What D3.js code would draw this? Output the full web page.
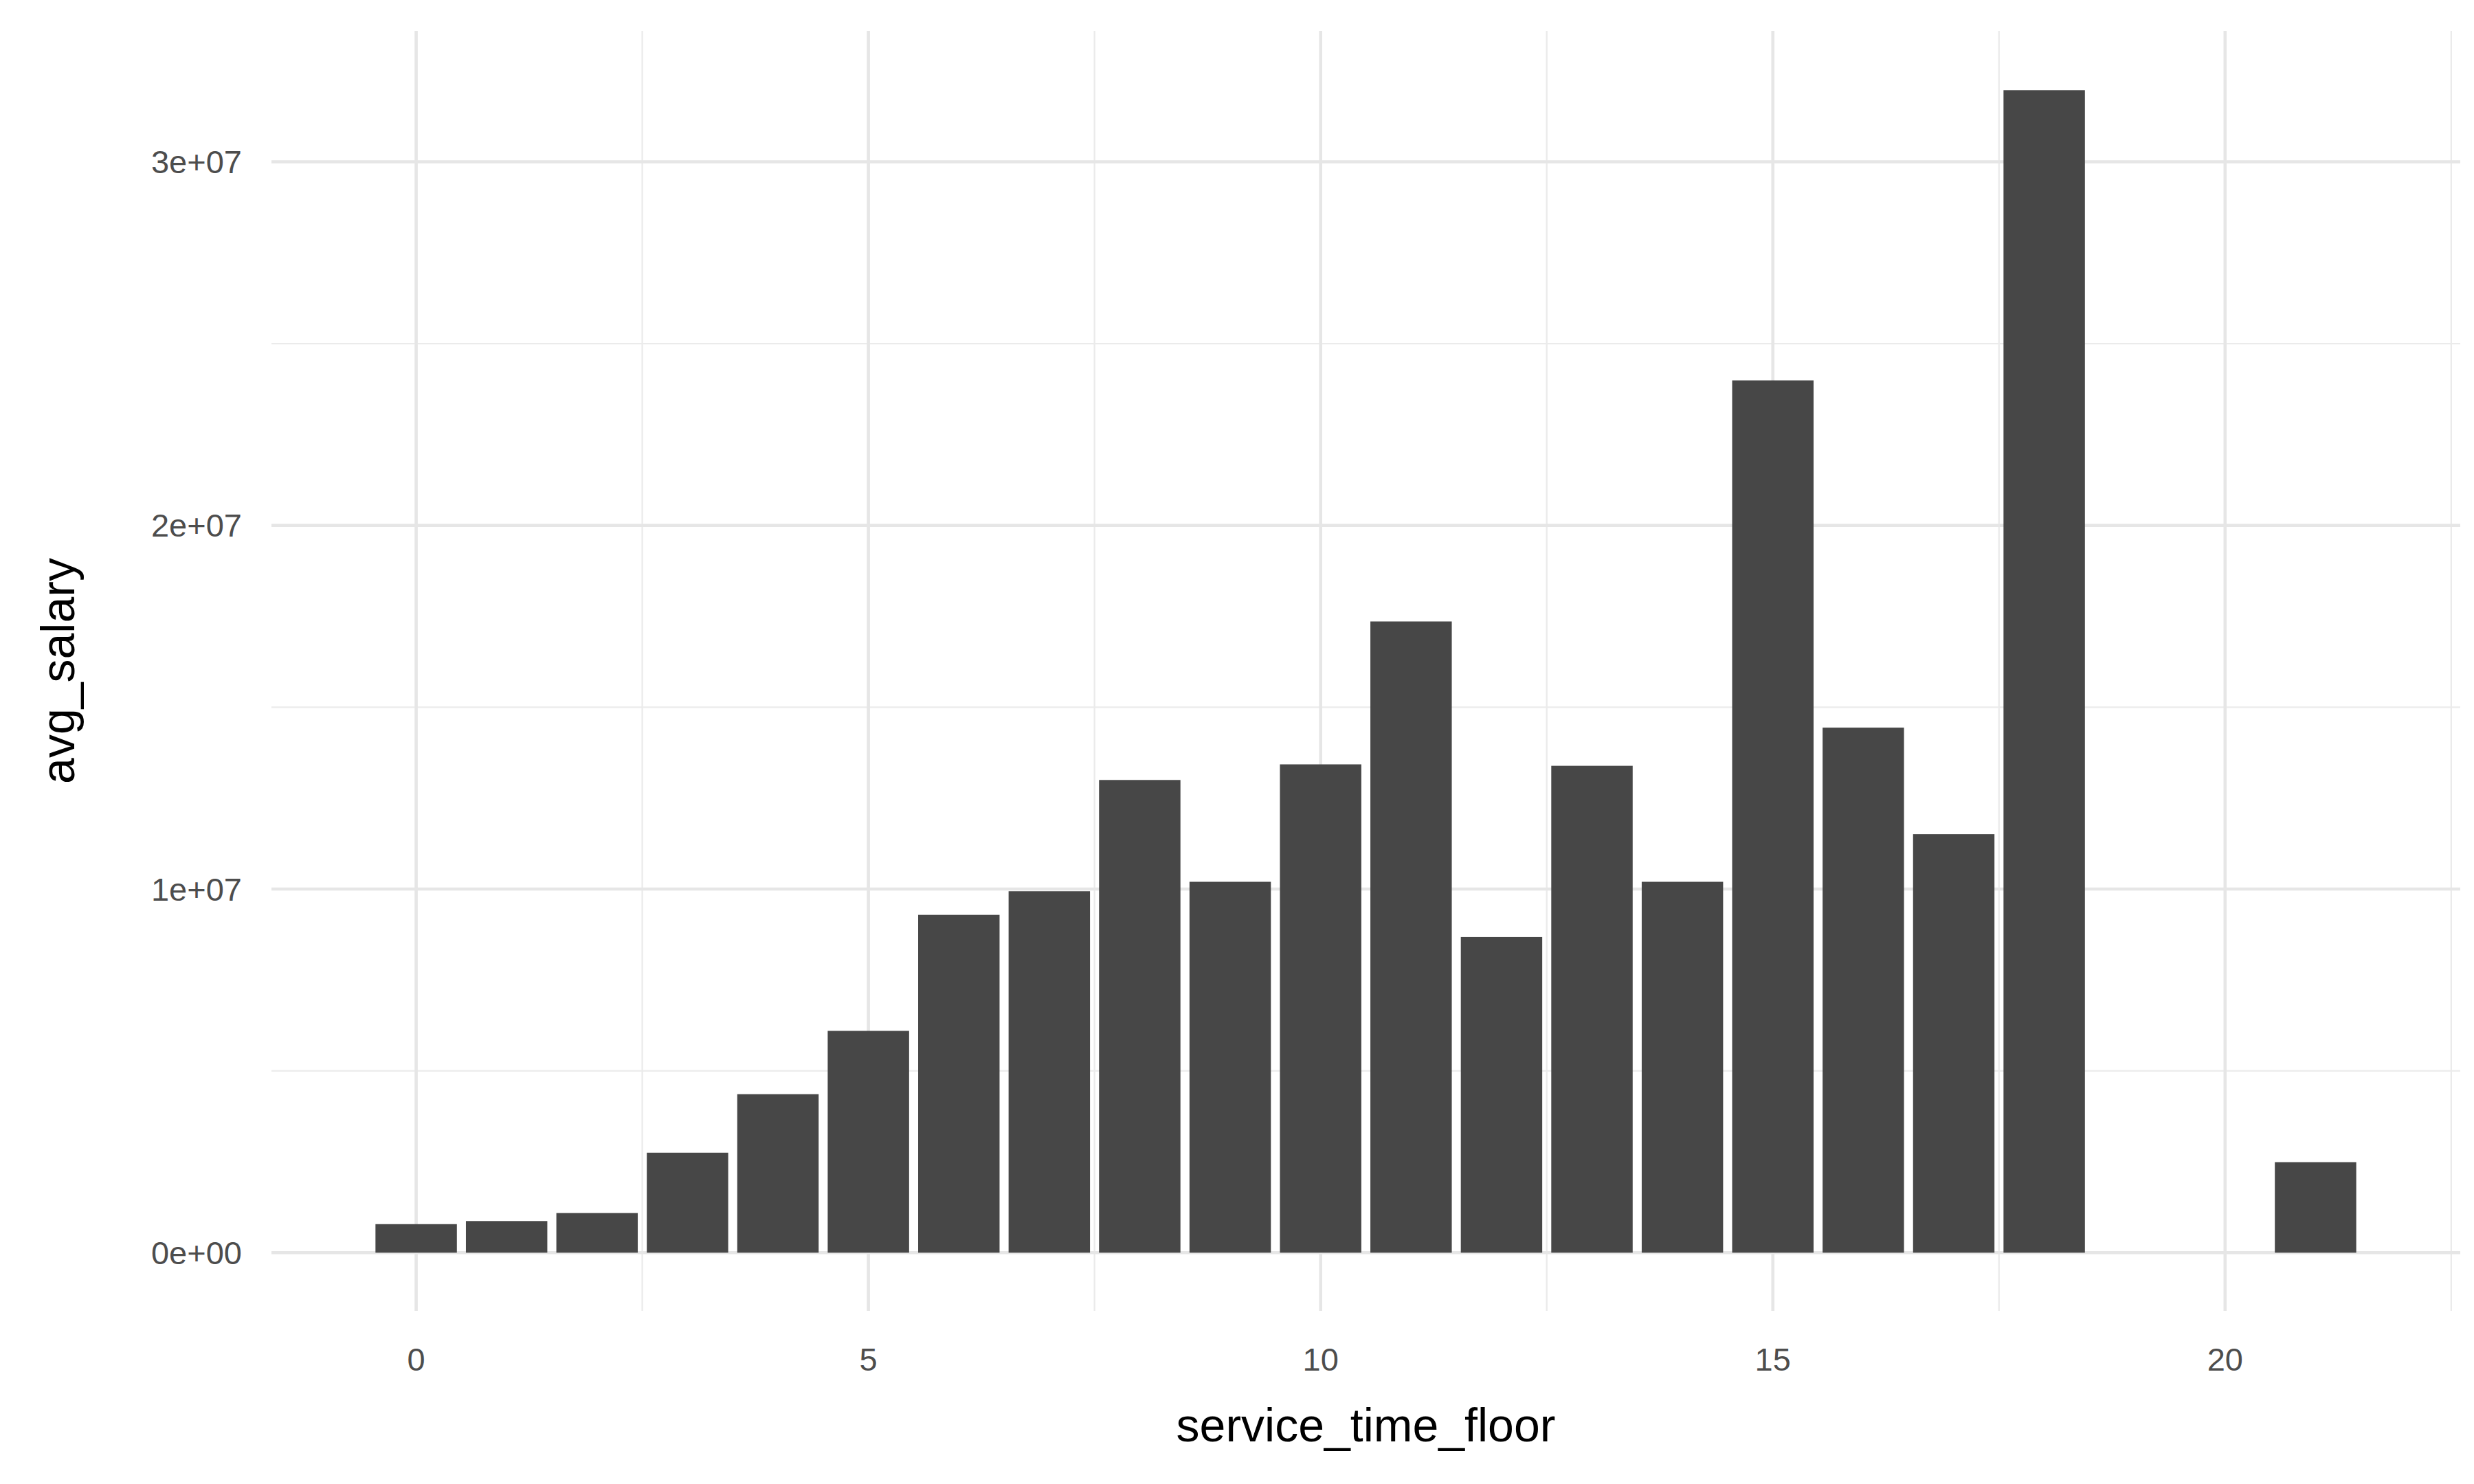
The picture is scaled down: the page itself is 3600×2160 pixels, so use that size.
<!DOCTYPE html>
<html><head><meta charset="utf-8">
<script src="https://cdn.jsdelivr.net/npm/d3@7"></script>
<style>body{margin:0;background:#fff}</style>
</head><body>
<script>
// Data
let years = [0,1,2,3,4,5,6,7,8,9,10,11,12,13,14,15,16,17,18,21]
let salaries = [785000,870000,1090000,2750000,4360000,6100000,9290000,9940000,13000000,10200000,
  13430000,17360000,8680000,13390000,10200000,23990000,14440000,11510000,31970000,2490000]
let xTicks = [0,5,10,15,20]
let yTicks = [0,1e7,2e7,3e7]
let yTickLabels = ['0e+00','1e+07','2e+07','3e+07']

let width = 3600, height = 2160
let margin = {left: 395, top: 45, right: 20, bottom: 252}

let svg = d3.select('body').append('svg')
    .attr('width', width).attr('height', height)
    .style('font-family', 'Liberation Sans, Arial, sans-serif')

let xScale = d3.scaleLinear().domain([-1.6, 22.6]).range([margin.left, width - margin.right])
let yScale = d3.scaleLinear().domain([-1.6e6, 33.6e6]).range([height - margin.bottom, margin.top])

// minor grid
let xMinor = [2.5, 7.5, 12.5, 17.5, 22.5].filter(v => v <= 22.6)
let yMinor = [5e6, 1.5e7, 2.5e7]
svg.selectAll('.vminor').data(xMinor).join('line')
    .attr('x1', d => xScale(d)).attr('x2', d => xScale(d))
    .attr('y1', margin.top).attr('y2', height - margin.bottom)
    .attr('stroke', '#ebebeb').attr('stroke-width', 2.3)
svg.selectAll('.hminor').data(yMinor).join('line')
    .attr('y1', d => yScale(d)).attr('y2', d => yScale(d))
    .attr('x1', margin.left).attr('x2', width - margin.right)
    .attr('stroke', '#ebebeb').attr('stroke-width', 2.3)
// major grid
svg.selectAll('.vmajor').data(xTicks).join('line')
    .attr('x1', d => xScale(d)).attr('x2', d => xScale(d))
    .attr('y1', margin.top).attr('y2', height - margin.bottom)
    .attr('stroke', '#e6e6e6').attr('stroke-width', 4.6)
svg.selectAll('.hmajor').data(yTicks).join('line')
    .attr('y1', d => yScale(d)).attr('y2', d => yScale(d))
    .attr('x1', margin.left).attr('x2', width - margin.right)
    .attr('stroke', '#e6e6e6').attr('stroke-width', 4.6)

// bars
let bw = xScale(0.9) - xScale(0)
svg.selectAll('rect').data(years).join('rect')
    .attr('x', d => xScale(d) - bw / 2)
    .attr('width', bw)
    .attr('y', (d, i) => yScale(salaries[i]))
    .attr('height', (d, i) => yScale(0) - yScale(salaries[i]))
    .attr('fill', '#474747')

// tick labels
svg.selectAll('.xt').data(xTicks).join('text')
    .attr('x', d => xScale(d)).attr('y', 1995)
    .attr('text-anchor', 'middle').attr('font-size', 47).attr('fill', '#4d4d4d')
    .text(d => d)
svg.selectAll('.yt').data(yTicks).join('text')
    .attr('x', 352).attr('y', d => yScale(d)).attr('dy', '0.35em')
    .attr('text-anchor', 'end').attr('font-size', 47).attr('fill', '#4d4d4d')
    .text((d, i) => yTickLabels[i])

// axis titles
svg.append('text').attr('x', xScale(10.5)).attr('y', 2098)
    .attr('text-anchor', 'middle').attr('font-size', 68).attr('fill', '#000')
    .text('service_time_floor')
svg.append('text')
    .attr('transform', `translate(108, ${(margin.top + height - margin.bottom) / 2}) rotate(-90)`)
    .attr('text-anchor', 'middle').attr('font-size', 68).attr('fill', '#000')
    .text('avg_salary')
</script>
</body></html>
